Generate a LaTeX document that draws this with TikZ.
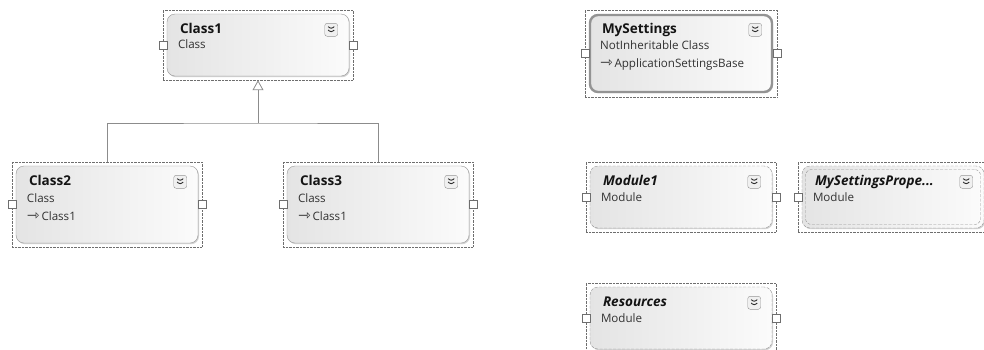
\documentclass[tikz,border=0pt]{standalone}
\usepackage{fontspec}
\setmainfont{Open Sans}
\newfontfamily\arrowfont{DejaVu Sans}
\usetikzlibrary{arrows.meta,calc,positioning,shadows}
\definecolor{boxline}{RGB}{150,150,150}
\definecolor{frameline}{RGB}{110,110,110}
\definecolor{boxfill}{RGB}{228,228,228}
\definecolor{titleink}{RGB}{20,20,20}
\definecolor{subink}{RGB}{50,50,50}
\newcommand{\baseref}{{\arrowfont\fontsize{15}{15}\selectfont ⇾}\,}
\tikzset{
 selframe/.style={draw=frameline,densely dotted,fill=white,inner sep=0pt},
 classbox/.style={rounded corners=8pt,draw=boxline,left color=boxfill,right color=gray!3,inner sep=0pt,
   drop shadow={shadow xshift=1pt,shadow yshift=-1.2pt,fill=gray!45,opacity=.8}},
 modulebox/.style={classbox,dash pattern=on 3pt off 1.5pt},
 port/.style={draw=frameline,fill=white,minimum size=8pt,inner sep=0pt},
 expander/.style={draw=boxline,fill=gray!12,rounded corners=2.5pt,minimum size=13pt,inner sep=0pt,
   path picture={\draw[gray!35!black,line width=.9pt]
     ([shift={(-3pt,3.2pt)}]path picture bounding box.center)--++(3pt,-2.6pt)--++(3pt,2.6pt)
     ([shift={(-3pt,-.2pt)}]path picture bounding box.center)--++(3pt,-2.6pt)--++(3pt,2.6pt);}},
 titletext/.style={anchor=base west,inner sep=0pt,font=\fontsize{13.5}{15}\selectfont\bfseries,text=titleink},
 modtext/.style={titletext,font=\fontsize{13.5}{15}\selectfont\bfseries\itshape},
 subtext/.style={anchor=base west,inner sep=0pt,font=\fontsize{11.6}{13}\selectfont,text=subink},
 inherit/.style={draw=gray!90,line width=.8pt}
}
\begin{document}
\begin{tikzpicture}[x=1pt,y=-1pt]
 \useasboundingbox (0,0) rectangle (984,349);
 % Class1
 \node[selframe,minimum width=190pt,minimum height=70pt] (c1) at (258,45) {};
 \node[classbox,minimum width=182pt,minimum height=62pt] (c1box) at (c1) {};
 \node[port] (c1in) at (c1.west) {};
 \node[port] (c1out) at (c1.east) {};
 \node[expander] (c1more) at ($(c1box.north east)+(-18,16)$) {};
 \node[titletext] (c1name) at ($(c1box.north west)+(13,20)$) {Class1};
 \node[subtext] (c1kind) at ($(c1box.north west)+(11,35)$) {Class};
 % Class2
 \node[selframe,minimum width=190pt,minimum height=85pt] (c2) at (107,204.5) {};
 \node[classbox,minimum width=182pt,minimum height=77pt] (c2box) at (c2) {};
 \node[port] (c2in) at (c2.west) {};
 \node[port] (c2out) at (c2.east) {};
 \node[expander] (c2more) at ($(c2box.north east)+(-18,16)$) {};
 \node[titletext] (c2name) at ($(c2box.north west)+(13,20)$) {Class2};
 \node[subtext] (c2kind) at ($(c2box.north west)+(11,37)$) {Class};
 \node[subtext] (c2base) at ($(c2box.north west)+(11,55)$) {\baseref Class1};
 % Class3
 \node[selframe,minimum width=190pt,minimum height=85pt] (c3) at (378,204.5) {};
 \node[classbox,minimum width=182pt,minimum height=77pt] (c3box) at (c3) {};
 \node[port] (c3in) at (c3.west) {};
 \node[port] (c3out) at (c3.east) {};
 \node[expander] (c3more) at ($(c3box.north east)+(-18,16)$) {};
 \node[titletext] (c3name) at ($(c3box.north west)+(13,20)$) {Class3};
 \node[subtext] (c3kind) at ($(c3box.north west)+(11,37)$) {Class};
 \node[subtext] (c3base) at ($(c3box.north west)+(11,55)$) {\baseref Class1};
 % inheritance
 \coordinate (bus) at (c1.south |- 0,123);
 \draw[inherit] (c2.north) |- (bus) -| (c3.north);
 \draw[inherit,-{Triangle[open,length=10pt,width=11pt]}] (bus) -- (c1.south);
 % MySettings
 \node[selframe,minimum width=192pt,minimum height=87pt] (ms) at (681,53.5) {};
 \node[classbox,draw=gray!85,line width=2.4pt,minimum width=182pt,minimum height=77pt] (msbox) at (ms) {};
 \node[port] (msin) at (ms.west) {};
 \node[port] (msout) at (ms.east) {};
 \node[expander] (msmore) at ($(msbox.north east)+(-18,16)$) {};
 \node[titletext] (msname) at ($(msbox.north west)+(13,20)$) {MySettings};
 \node[subtext] (mskind) at ($(msbox.north west)+(11,36)$) {NotInheritable Class};
 \node[subtext] (msbase) at ($(msbox.north west)+(11,54)$) {\baseref ApplicationSettingsBase};
 % Module1
 \node[selframe,minimum width=190pt,minimum height=70pt] (m1) at (681,197) {};
 \node[modulebox,minimum width=182pt,minimum height=62pt] (m1box) at (m1) {};
 \node[port] (m1in) at (m1.west) {};
 \node[port] (m1out) at (m1.east) {};
 \node[expander] (m1more) at ($(m1box.north east)+(-18,16)$) {};
 \node[modtext] (m1name) at ($(m1box.north west)+(13,20)$) {Module1};
 \node[subtext] (m1kind) at ($(m1box.north west)+(11,36)$) {Module};
 % MySettingsProperty
 \node[selframe,minimum width=190pt,minimum height=70pt] (msp) at (893,197) {};
 \node[modulebox,minimum width=182pt,minimum height=62pt] (mspbox) at (msp) {};
 \node[rounded corners=6pt,draw=boxline,dash pattern=on 3pt off 1.5pt,minimum width=175pt,minimum height=55pt,inner sep=0pt] (mspring) at (msp) {};
 \node[port] (mspin) at (msp.west) {};
 \node[port] (mspout) at (msp.east) {};
 \node[expander] (mspmore) at ($(mspbox.north east)+(-18,16)$) {};
 \node[modtext] (mspname) at ($(mspbox.north west)+(13,20)$) {MySettingsPrope...};
 \node[subtext] (mspkind) at ($(mspbox.north west)+(11,36)$) {Module};
 % Resources
 \node[selframe,minimum width=190pt,minimum height=70pt] (res) at (681,318) {};
 \node[modulebox,minimum width=182pt,minimum height=62pt] (resbox) at (res) {};
 \node[port] (resin) at (res.west) {};
 \node[port] (resout) at (res.east) {};
 \node[expander] (resmore) at ($(resbox.north east)+(-18,16)$) {};
 \node[modtext] (resname) at ($(resbox.north west)+(13,20)$) {Resources};
 \node[subtext] (reskind) at ($(resbox.north west)+(11,36)$) {Module};
\end{tikzpicture}
\end{document}
